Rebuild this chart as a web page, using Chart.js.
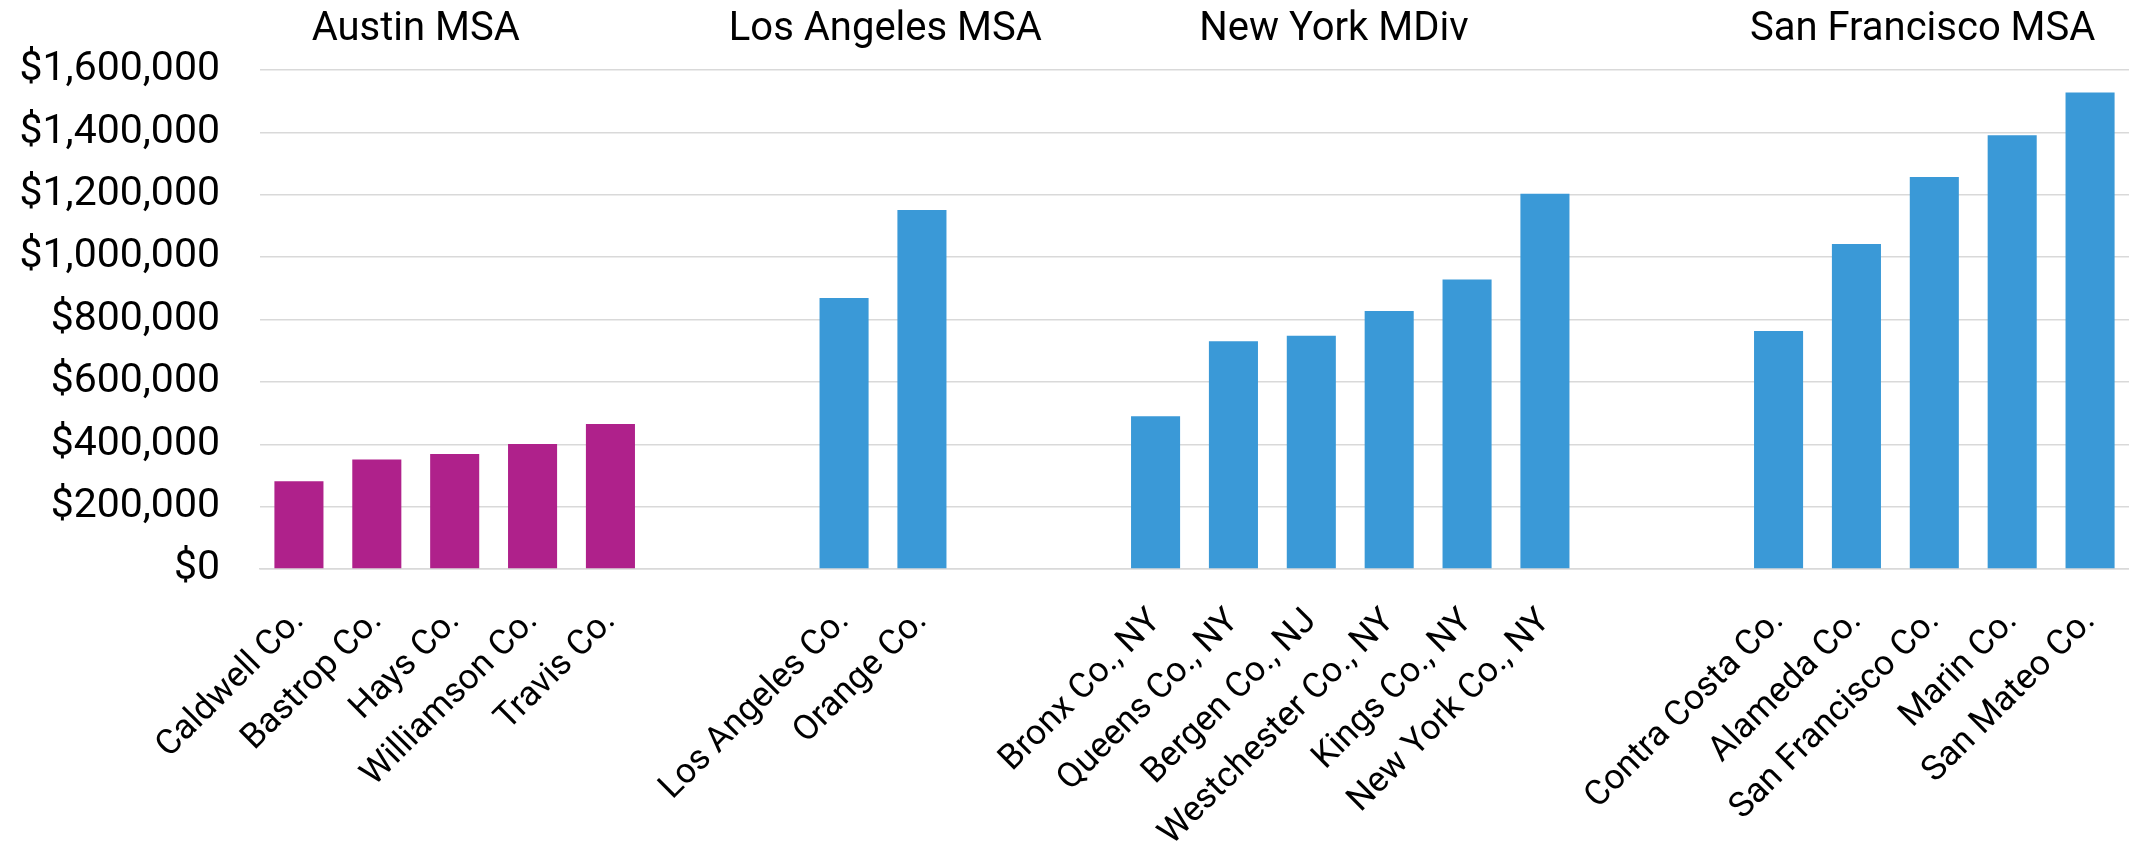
<!DOCTYPE html>
<html>
<head>
<meta charset="utf-8">
<title>County values by metro area</title>
<script src="https://cdn.jsdelivr.net/npm/chart.js@4.4.1/dist/chart.umd.min.js"></script>
<style>
  html, body { margin: 0; padding: 0; background: #fff; }
  #wrap { width: 2129px; height: 851px; }
</style>
</head>
<body>
<div id="wrap"><canvas id="chart"></canvas></div>
<script>
// data
const groupNames = ['Austin MSA', 'Los Angeles MSA', 'New York MDiv', 'San Francisco MSA'];

const austinCounties = ['Caldwell Co.', 'Bastrop Co.', 'Hays Co.', 'Williamson Co.', 'Travis Co.'];
const austinValues = [281000, 351000, 369000, 401000, 465000];

const laCounties = ['Los Angeles Co.', 'Orange Co.'];
const laValues = [869000, 1151000];

const nyCounties = ['Bronx Co., NY', 'Queens Co., NY', 'Bergen Co., NJ', 'Westchester Co., NY', 'Kings Co., NY', 'New York Co., NY'];
const nyValues = [490000, 730000, 748000, 827000, 928000, 1203000];

const sfCounties = ['Contra Costa Co.', 'Alameda Co.', 'San Francisco Co.', 'Marin Co.', 'San Mateo Co.'];
const sfValues = [763000, 1042000, 1257000, 1391000, 1528000];

const yTicks = [0, 200000, 400000, 600000, 800000, 1000000, 1200000, 1400000, 1600000];

const MAGENTA = '#AF218B';
const BLUE = '#3A99D7';
const FONT = 'Roboto, "Noto Sans", sans-serif';

// two empty categories between each metro
const gap = 2;
const groups = [
  { counties: austinCounties, values: austinValues, color: MAGENTA, shift: -0.5 },
  { counties: laCounties, values: laValues, color: BLUE, shift: 0.03 },
  { counties: nyCounties, values: nyValues, color: BLUE, shift: -0.21 },
  { counties: sfCounties, values: sfValues, color: BLUE, shift: -0.15 }
];

const labels = [];
const values = [];
const colors = [];
groups.forEach((g, gi) => {
  if (gi > 0) {
    for (let i = 0; i < gap; i++) {
      labels.push('');
      values.push(null);
      colors.push(BLUE);
    }
  }
  g.first = labels.length;
  for (let i = 0; i < g.counties.length; i++) {
    labels.push(g.counties[i]);
    values.push(g.values[i]);
    colors.push(g.color);
  }
  g.last = labels.length - 1;
});

const groupTitles = {
  id: 'groupTitles',
  afterDraw(chart) {
    const ctx = chart.ctx;
    const x = chart.scales.x;
    const step = x.getPixelForValue(1) - x.getPixelForValue(0);
    ctx.save();
    ctx.font = '40px ' + FONT;
    ctx.fillStyle = '#000';
    ctx.textAlign = 'center';
    ctx.textBaseline = 'alphabetic';
    groups.forEach((g, gi) => {
      const mid = (g.first + g.last) / 2 + g.shift;
      const px = x.getPixelForValue(0) + mid * step;
      ctx.fillText(groupNames[gi], px, 40);
    });
    ctx.restore();
  }
};

new Chart(document.getElementById('chart'), {
  type: 'bar',
  data: {
    labels: labels,
    datasets: [{
      data: values,
      backgroundColor: colors,
      borderWidth: 0,
      barPercentage: 0.63,
      categoryPercentage: 1
    }]
  },
  options: {
    responsive: true,
    maintainAspectRatio: false,
    animation: false,
    events: [],
    layout: { padding: { top: 70, right: -4, bottom: 0, left: 0 } },
    plugins: {
      legend: { display: false },
      tooltip: { enabled: false }
    },
    scales: {
      x: {
        grid: { display: false, drawTicks: false },
        border: { display: true, color: '#d9d9d9', width: 1.5 },
        ticks: {
          autoSkip: false,
          maxRotation: 45,
          minRotation: 45,
          padding: 32,
          color: '#000',
          font: { family: FONT, size: 35 }
        },
        afterFit(scale) {
          scale.height = 282;
          scale.paddingLeft = 0;
          scale.paddingRight = 0;
        }
      },
      y: {
        min: 0,
        max: 1600000,
        afterBuildTicks(scale) { scale.ticks = yTicks.map(v => ({ value: v })); },
        grid: { color: '#d9d9d9', lineWidth: 1.5, drawTicks: false },
        border: { display: false },
        ticks: {
          padding: 40,
          color: '#000',
          font: { family: FONT, size: 41 },
          callback: v => '$' + v.toLocaleString('en-US')
        },
        afterFit(scale) {
          scale.width = 260;
          scale.paddingTop = 0;
          scale.paddingBottom = 0;
        }
      }
    }
  },
  plugins: [groupTitles]
});
</script>
</body>
</html>
